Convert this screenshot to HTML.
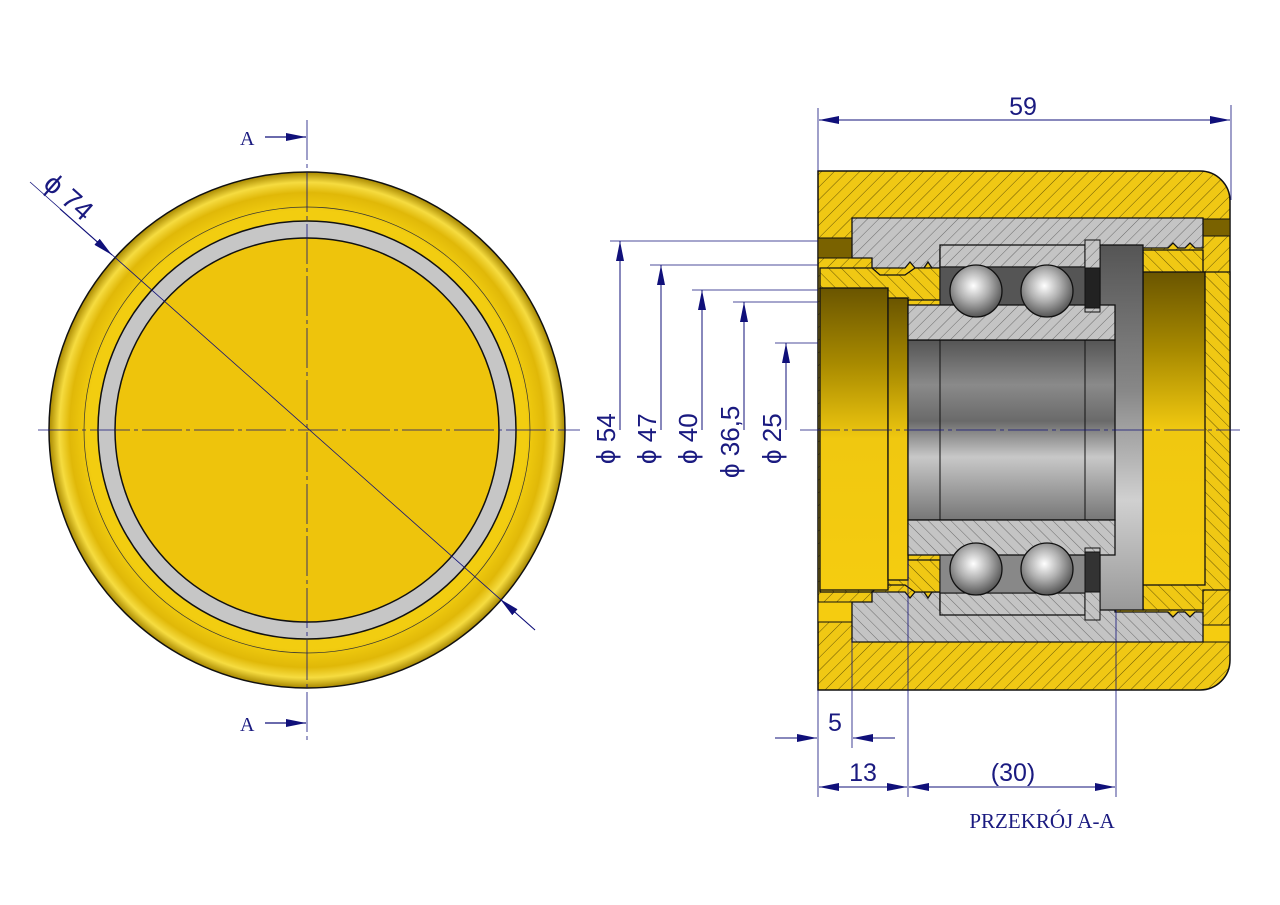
<!DOCTYPE html>
<html><head><meta charset="utf-8"><style>
html,body{margin:0;padding:0;background:#fff;}
svg{display:block;}
text{font-family:"Liberation Sans",sans-serif;fill:#1a1a80;}
</style></head><body>
<svg width="1280" height="905" viewBox="0 0 1280 905" xmlns="http://www.w3.org/2000/svg">
<defs>
<pattern id="hy" width="9" height="9" patternUnits="userSpaceOnUse" patternTransform="rotate(45)">
<rect width="9" height="9" fill="#f0c814"/><line x1="0" y1="0" x2="0" y2="9" stroke="#5a4a00" stroke-width="0.9"/></pattern>
<pattern id="hy2" width="9" height="9" patternUnits="userSpaceOnUse" patternTransform="rotate(-45)">
<rect width="9" height="9" fill="#f0c814"/><line x1="0" y1="0" x2="0" y2="9" stroke="#5a4a00" stroke-width="0.9"/></pattern>
<pattern id="hg" width="8" height="8" patternUnits="userSpaceOnUse" patternTransform="rotate(45)">
<rect width="8" height="8" fill="#c4c4c4"/><line x1="0" y1="0" x2="0" y2="8" stroke="#555" stroke-width="0.8"/></pattern>
<pattern id="hg2" width="8" height="8" patternUnits="userSpaceOnUse" patternTransform="rotate(-45)">
<rect width="8" height="8" fill="#c4c4c4"/><line x1="0" y1="0" x2="0" y2="8" stroke="#555" stroke-width="0.8"/></pattern>
<radialGradient id="rg" cx="0.5" cy="0.5" r="0.5">
<stop offset="0.85" stop-color="#f2cd10"/><stop offset="0.92" stop-color="#e0b808"/><stop offset="0.96" stop-color="#f6dc40"/><stop offset="1" stop-color="#a88800"/></radialGradient>
<linearGradient id="gold" x1="0" y1="0" x2="0" y2="1">
<stop offset="0" stop-color="#6a5500"/><stop offset="0.25" stop-color="#a88a00"/><stop offset="0.5" stop-color="#f0c810"/><stop offset="1" stop-color="#f5cc10"/></linearGradient>
<linearGradient id="steel" x1="0" y1="0" x2="0" y2="1">
<stop offset="0" stop-color="#555"/><stop offset="0.25" stop-color="#8a8a8a"/><stop offset="0.45" stop-color="#6a6a6a"/><stop offset="0.65" stop-color="#c8c8c8"/><stop offset="0.85" stop-color="#999"/><stop offset="1" stop-color="#777"/></linearGradient>
<linearGradient id="disk" x1="0" y1="0" x2="0" y2="1">
<stop offset="0" stop-color="#555"/><stop offset="0.4" stop-color="#888"/><stop offset="0.7" stop-color="#d0d0d0"/><stop offset="1" stop-color="#999"/></linearGradient>
<radialGradient id="ball" cx="0.45" cy="0.4" r="0.6">
<stop offset="0" stop-color="#fff"/><stop offset="0.5" stop-color="#b0b0b0"/><stop offset="1" stop-color="#555"/></radialGradient>
<marker id="ar" viewBox="0 0 20 8" refX="20" refY="4" markerWidth="20" markerHeight="8" markerUnits="userSpaceOnUse" orient="auto"><path d="M0,0L20,4L0,8z" fill="#10107a"/></marker>
</defs>

<!-- LEFT VIEW -->
<circle cx="307" cy="430" r="258" fill="url(#rg)" stroke="#111" stroke-width="1.5"/>
<circle cx="307" cy="430" r="223" fill="none" stroke="#333" stroke-width="0.7"/>
<circle cx="307" cy="430" r="209" fill="#c6c6c6" stroke="#111" stroke-width="1.5"/>
<circle cx="307" cy="430" r="192" fill="#eec40c" stroke="#111" stroke-width="1.5"/>
<line x1="307" y1="120" x2="307" y2="740" stroke="#10107a" stroke-width="0.8" stroke-dasharray="40,4,4,4"/>
<line x1="38" y1="430" x2="580" y2="430" stroke="#10107a" stroke-width="0.8" stroke-dasharray="40,4,4,4"/>
<line x1="30" y1="182" x2="535" y2="630" stroke="#10107a" stroke-width="0.8"/>
<line x1="60" y1="209" x2="112" y2="255" stroke="#10107a" stroke-width="1" marker-end="url(#ar)"/>
<line x1="535" y1="630" x2="500" y2="599" stroke="#10107a" stroke-width="1" marker-end="url(#ar)"/>
<text x="0" y="0" font-size="28" transform="translate(42,186) rotate(41.5)">ϕ 74</text>
<text x="240" y="145" font-size="20" style="font-family:'Liberation Serif',serif">A</text>
<line x1="265" y1="137" x2="306" y2="137" stroke="#10107a" stroke-width="1.2" marker-end="url(#ar)"/>
<text x="240" y="731" font-size="20" style="font-family:'Liberation Serif',serif">A</text>
<line x1="265" y1="723" x2="306" y2="723" stroke="#10107a" stroke-width="1.2" marker-end="url(#ar)"/>

<!-- SECTION VIEW -->
<path d="M818,171 H1200 A30,30 0 0 1 1230,201 V660 A30,30 0 0 1 1200,690 H818 Z" fill="url(#hy)" stroke="#111" stroke-width="1.5"/>
<rect x="818" y="238" width="34" height="20" fill="#7a6200" stroke="#111"/>
<rect x="818" y="602" width="34" height="20" fill="#f5cc10" stroke="#111"/>
<rect x="1203" y="219" width="27" height="17" fill="#7a6200" stroke="#111"/>
<rect x="1203" y="625" width="27" height="17" fill="#f5cc10" stroke="#111"/>
<path d="M852,218 H1203 V248 L1195,248 1190,243 1185,248 1178,248 1173,243 1168,248 1115,248 1115,268 1040,268 1040,250 940,250 940,268 932,268 928,262 924,268 915,268 910,262 905,268 872,268 872,258 852,258 Z" fill="url(#hg)" stroke="#111" stroke-width="1.3"/>
<path d="M852,642 H1203 V612 L1195,612 1190,617 1185,612 1178,612 1173,617 1168,612 1115,612 1115,592 1040,592 1040,610 940,610 940,592 932,592 928,598 924,592 915,592 910,598 905,592 872,592 872,602 852,602 Z" fill="url(#hg2)" stroke="#111" stroke-width="1.3"/>
<path d="M820,268 H872 L880,275 H905 L915,268 H940 V300 H908 V560 H940 V592 H915 L905,585 H880 L872,592 H820 Z" fill="url(#hy2)" stroke="#111" stroke-width="1.3"/>
<rect x="820" y="288" width="68" height="302" fill="url(#gold)" stroke="#111" stroke-width="1.3"/>
<rect x="888" y="298" width="20" height="282" fill="url(#gold)" stroke="#111" stroke-width="1.3"/>
<path d="M1143,250 H1203 V272 H1230 V590 H1203 V610 H1143 Z" fill="url(#hy2)" stroke="#111" stroke-width="1.3"/>
<rect x="1143" y="272" width="62" height="313" fill="url(#gold)" stroke="#111" stroke-width="1.3"/>
<rect x="1100" y="245" width="43" height="365" fill="url(#disk)" stroke="#111" stroke-width="1.3"/>
<rect x="908" y="340" width="207" height="180" fill="url(#steel)" stroke="#111" stroke-width="1.3"/>
<line x1="940" y1="340" x2="940" y2="520" stroke="#111"/>
<line x1="1085" y1="340" x2="1085" y2="520" stroke="#111"/>
<rect x="940" y="245" width="145" height="22" fill="url(#hg)" stroke="#111" stroke-width="1.3"/>
<rect x="940" y="267" width="145" height="45" fill="#555" stroke="#111"/>
<rect x="908" y="305" width="207" height="35" fill="url(#hg)" stroke="#111" stroke-width="1.3"/>
<rect x="1085" y="240" width="15" height="72" fill="url(#hg)" stroke="#111"/>
<rect x="1085" y="268" width="15" height="40" fill="#222" stroke="#111"/>
<circle cx="976" cy="291" r="26" fill="url(#ball)" stroke="#111" stroke-width="1.3"/>
<circle cx="1047" cy="291" r="26" fill="url(#ball)" stroke="#111" stroke-width="1.3"/>
<rect x="940" y="593" width="145" height="22" fill="url(#hg2)" stroke="#111" stroke-width="1.3"/>
<rect x="940" y="548" width="145" height="45" fill="#888" stroke="#111"/>
<rect x="908" y="520" width="207" height="35" fill="url(#hg2)" stroke="#111" stroke-width="1.3"/>
<rect x="1085" y="548" width="15" height="72" fill="url(#hg2)" stroke="#111"/>
<rect x="1085" y="552" width="15" height="40" fill="#333" stroke="#111"/>
<circle cx="976" cy="569" r="26" fill="url(#ball)" stroke="#111" stroke-width="1.3"/>
<circle cx="1047" cy="569" r="26" fill="url(#ball)" stroke="#111" stroke-width="1.3"/>
<line x1="800" y1="430" x2="1240" y2="430" stroke="#10107a" stroke-width="0.8" stroke-dasharray="40,4,4,4"/>

<g stroke="#10107a" stroke-width="0.8" fill="none">
<line x1="610" y1="241" x2="818" y2="241"/><line x1="650" y1="265" x2="818" y2="265"/>
<line x1="692" y1="290" x2="818" y2="290"/><line x1="733" y1="302" x2="818" y2="302"/>
<line x1="775" y1="343" x2="818" y2="343"/>
</g>
<g stroke="#10107a" stroke-width="1">
<line x1="620" y1="430" x2="620" y2="241" marker-end="url(#ar)"/>
<line x1="661" y1="430" x2="661" y2="265" marker-end="url(#ar)"/>
<line x1="702" y1="430" x2="702" y2="290" marker-end="url(#ar)"/>
<line x1="744" y1="430" x2="744" y2="302" marker-end="url(#ar)"/>
<line x1="786" y1="430" x2="786" y2="343" marker-end="url(#ar)"/>
</g>
<g font-size="26">
<text transform="translate(615,464) rotate(-90)">ϕ 54</text>
<text transform="translate(656,464) rotate(-90)">ϕ 47</text>
<text transform="translate(697,464) rotate(-90)">ϕ 40</text>
<text transform="translate(739,478) rotate(-90)">ϕ 36,5</text>
<text transform="translate(781,464) rotate(-90)">ϕ 25</text>
</g>

<line x1="818" y1="108" x2="818" y2="171" stroke="#10107a" stroke-width="0.8"/>
<line x1="1231" y1="105" x2="1231" y2="200" stroke="#10107a" stroke-width="0.8"/>
<line x1="1022" y1="120" x2="819" y2="120" stroke="#10107a" stroke-width="1" marker-end="url(#ar)"/>
<line x1="1022" y1="120" x2="1230" y2="120" stroke="#10107a" stroke-width="1" marker-end="url(#ar)"/>
<text x="1023" y="115" font-size="25" text-anchor="middle">59</text>

<g stroke="#10107a" stroke-width="0.8">
<line x1="818" y1="690" x2="818" y2="797"/>
<line x1="852" y1="640" x2="852" y2="748"/>
<line x1="908" y1="560" x2="908" y2="797"/>
<line x1="1116" y1="610" x2="1116" y2="797"/>
</g>
<line x1="775" y1="738" x2="817" y2="738" stroke="#10107a" stroke-width="1" marker-end="url(#ar)"/>
<line x1="895" y1="738" x2="853" y2="738" stroke="#10107a" stroke-width="1" marker-end="url(#ar)"/>
<text x="835" y="731" font-size="25" text-anchor="middle">5</text>
<line x1="863" y1="787" x2="819" y2="787" stroke="#10107a" stroke-width="1" marker-end="url(#ar)"/>
<line x1="863" y1="787" x2="907" y2="787" stroke="#10107a" stroke-width="1" marker-end="url(#ar)"/>
<text x="863" y="781" font-size="25" text-anchor="middle">13</text>
<line x1="1012" y1="787" x2="909" y2="787" stroke="#10107a" stroke-width="1" marker-end="url(#ar)"/>
<line x1="1012" y1="787" x2="1115" y2="787" stroke="#10107a" stroke-width="1" marker-end="url(#ar)"/>
<text x="1013" y="781" font-size="25" text-anchor="middle">(30)</text>
<text x="1042" y="828" font-size="21" text-anchor="middle" style="font-family:'Liberation Serif',serif">PRZEKRÓJ A-A</text>
</svg>
</body></html>
